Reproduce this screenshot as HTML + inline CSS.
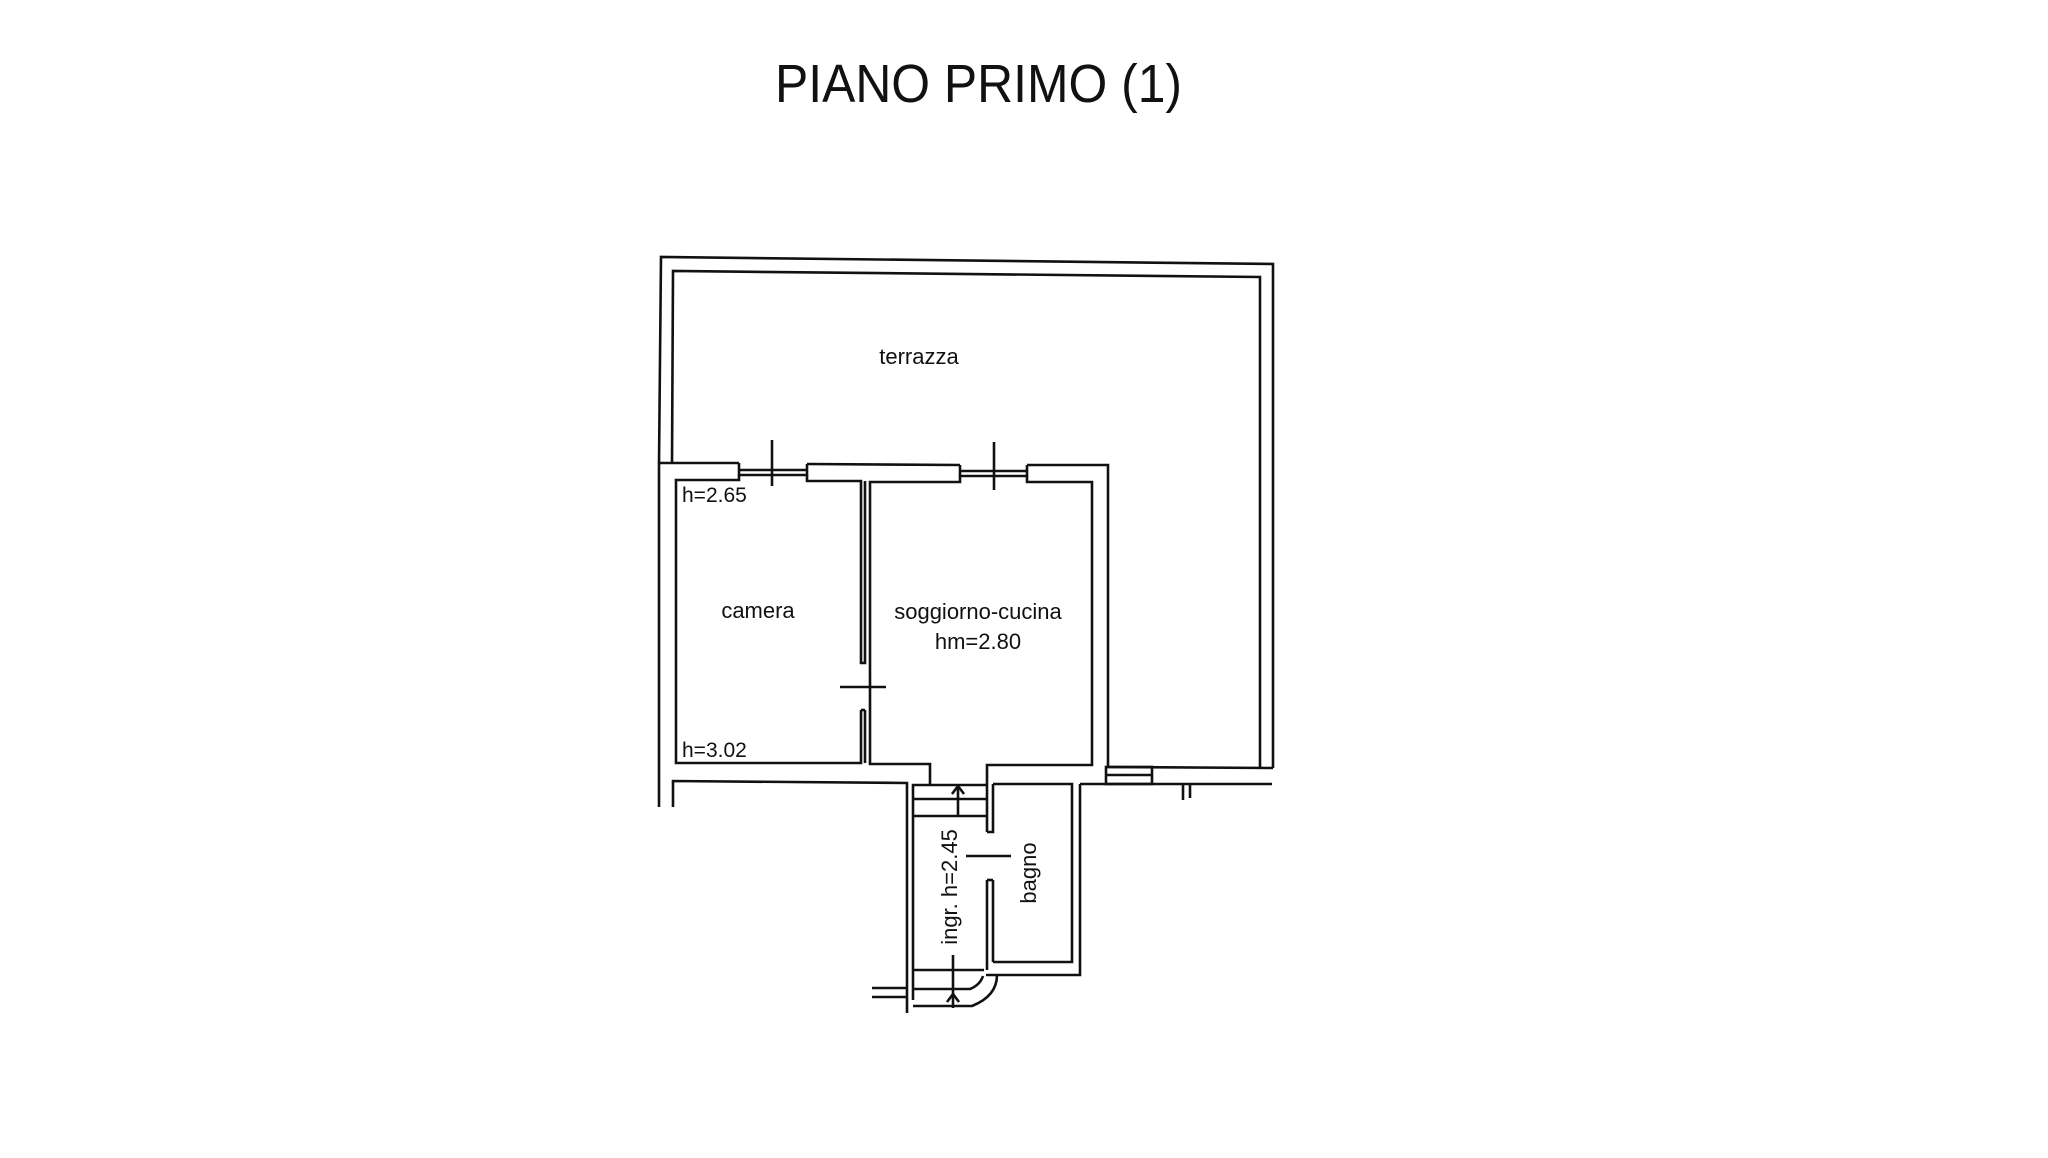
<!DOCTYPE html>
<html><head><meta charset="utf-8"><style>
html,body{margin:0;padding:0;background:#fff;}
svg{display:block;}
text{font-family:"Liberation Sans",sans-serif;fill:#111;}
</style></head><body>
<svg width="2048" height="1158" viewBox="0 0 2048 1158" xmlns="http://www.w3.org/2000/svg">
<rect width="2048" height="1158" fill="#fff"/>
<text x="775" y="102" font-size="54" textLength="407" lengthAdjust="spacingAndGlyphs">PIANO PRIMO (1)</text>
<g fill="none" stroke="#111" stroke-width="2.6" stroke-linejoin="miter">
<polyline points="659,807 659,463 661,257 1273,264 1273,768"/>
<polyline points="672,463 673,271 1260,277 1260,768"/>
<line x1="1108" y1="767" x2="1273" y2="768"/>
<polyline points="659,463 739,463"/>
<polyline points="807,464 960,465"/>
<polyline points="1027,465 1108,465 1108,767"/>
<polyline points="739,463 739,475 807,475 807,464"/>
<line x1="739" y1="470" x2="807" y2="470"/>
<line x1="772" y1="440" x2="772" y2="486"/>
<polyline points="960,465 960,476 1027,476 1027,465"/>
<line x1="960" y1="471" x2="1027" y2="471"/>
<line x1="994" y1="442" x2="994" y2="490"/>
<polyline points="739,475 739,480 676,480 676,763 861,763 861,710"/>
<polyline points="807,475 807,481 861,481 861,663 865,663 865,481"/>
<polyline points="865,710 865,763"/>
<polyline points="861,710 865,710"/>
<polyline points="960,476 960,482 870,482 870,764 930,764 930,784"/>
<polyline points="1027,476 1027,482 1092,482 1092,765 987,765 987,832"/>
<line x1="840" y1="687" x2="886" y2="687"/>
<polyline points="673,807 673,781 907,783 907,1013"/>
<polyline points="913,1000 913,785 986,785"/>
<line x1="913" y1="799" x2="986" y2="799"/>
<line x1="913" y1="816" x2="986" y2="816"/>
<line x1="958" y1="816" x2="958" y2="786"/>
<polyline points="952,794 958,786 964,794"/>
<line x1="953" y1="955" x2="953" y2="1008"/>
<polyline points="947,1002 953,994 959,1002"/>
<polyline points="987,832 993,832 993,784"/>
<polyline points="987,880 987,970"/>
<polyline points="993,880 993,962"/>
<line x1="987" y1="880" x2="993" y2="880"/>
<line x1="966" y1="856" x2="1011" y2="856"/>
<polyline points="993,784 1072,784 1072,962 993,962"/>
<polyline points="1080,784 1080,975 986,975"/>
<line x1="1080" y1="784" x2="1272" y2="784"/>
<polyline points="913,970 984,970"/>
<path d="M913,989 L970,989 Q980,985 983,976"/>
<path d="M913,1006 L972,1006 Q997,996 997,975"/>
<line x1="872" y1="988" x2="907" y2="988"/>
<line x1="872" y1="997" x2="907" y2="997"/>
<rect x="1106" y="767" width="46" height="17"/>
<line x1="1106" y1="775" x2="1152" y2="775"/>
<line x1="1183" y1="784" x2="1183" y2="800"/>
<line x1="1190" y1="784" x2="1190" y2="798"/>
</g>
<text x="919" y="364" font-size="22" text-anchor="middle">terrazza</text>
<text x="758" y="618" font-size="22" text-anchor="middle">camera</text>
<text x="978" y="619" font-size="22" text-anchor="middle">soggiorno-cucina</text>
<text x="978" y="649" font-size="22" text-anchor="middle">hm=2.80</text>
<text x="682" y="502" font-size="21">h=2.65</text>
<text x="682" y="757" font-size="21">h=3.02</text>
<text transform="translate(957,887) rotate(-90)" font-size="22" text-anchor="middle">ingr. h=2.45</text>
<text transform="translate(1036,873) rotate(-90)" font-size="22" text-anchor="middle">bagno</text>
</svg>
</body></html>
